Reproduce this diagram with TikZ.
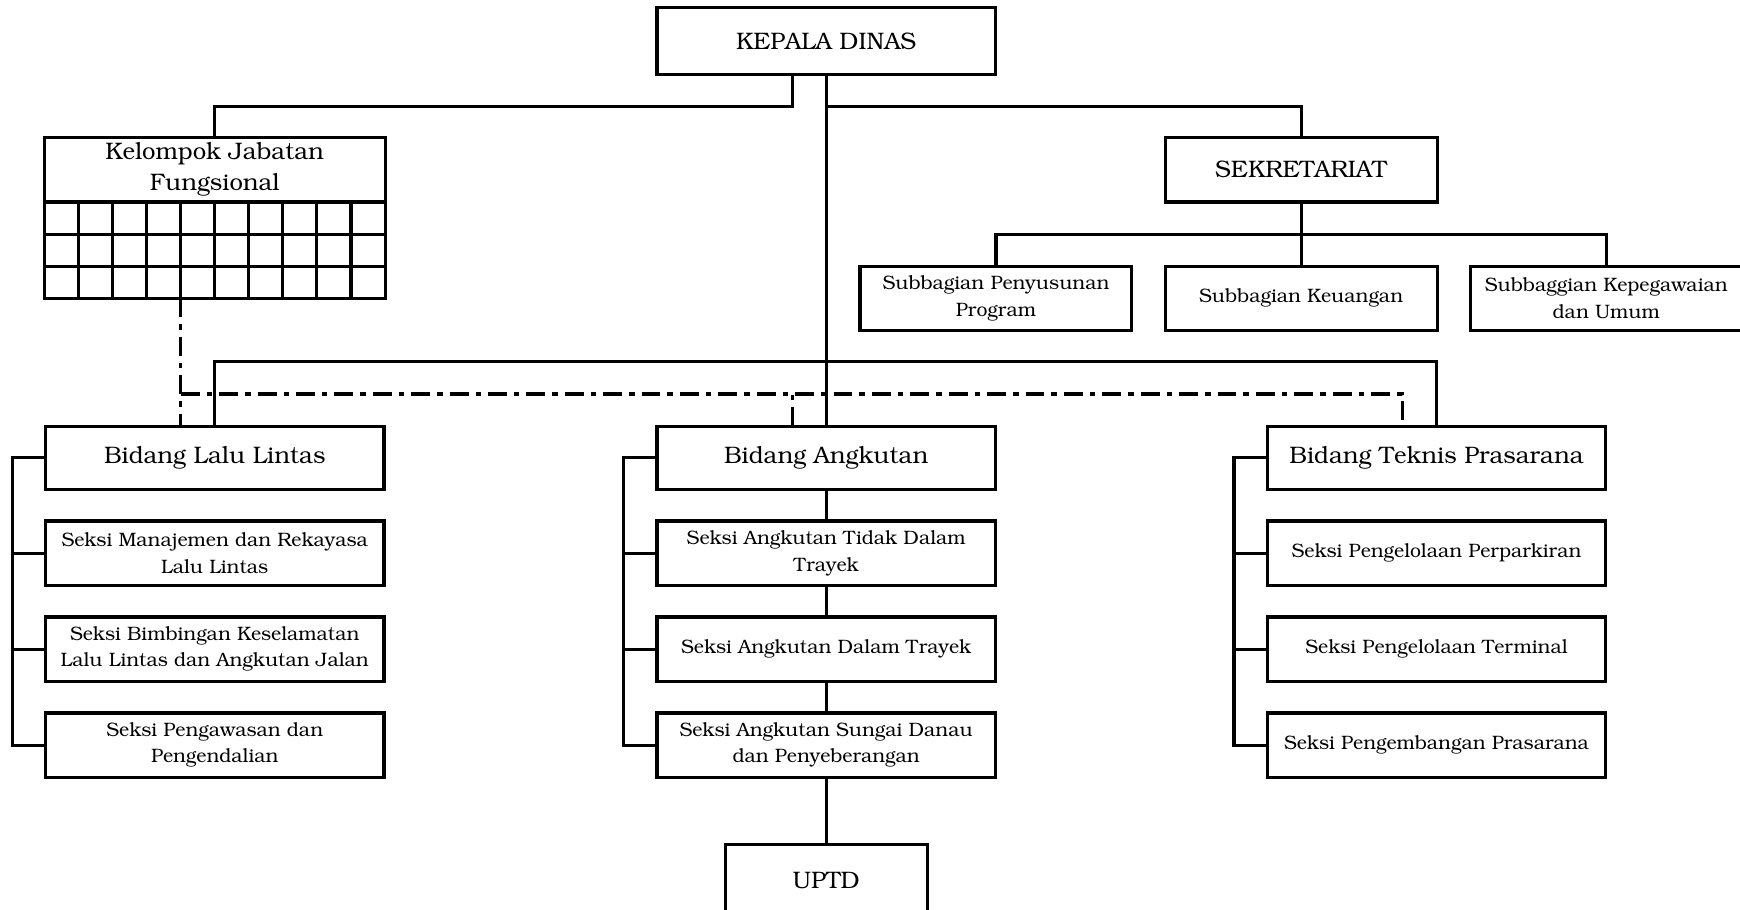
\documentclass[tikz,border=0pt]{standalone}
\usepackage[T1]{fontenc}
\usepackage{bookman}
\usetikzlibrary{positioning,calc}
\newcommand\orgbig{\fontsize{21.5}{28}\selectfont}
\newcommand\orgsmall{\fontsize{17.5}{24}\selectfont}
\tikzset{
  orgtop/.style={rectangle, draw=black, line width=2.8pt, outer sep=0pt, inner sep=0pt, align=center, minimum width=305pt, minimum height=57pt, font=\orgbig},
  orgbox/.style={rectangle, draw=black, line width=2.8pt, outer sep=0pt, inner sep=0pt, align=center, minimum width=305pt, minimum height=58pt, font=\orgsmall},
  orgsub/.style={orgbox, minimum width=245pt},
  orgline/.style={line width=2.8pt},
  orgdash/.style={line width=2.8pt, dash pattern=on 17pt off 6.3pt on 5pt off 6.3pt}
}
\begin{document}
\begin{tikzpicture}[x=1pt, y=-1pt, node distance=28.5pt]
\useasboundingbox (0,0) rectangle (1568,820);
% top
\node[orgtop, minimum height=60pt] (kd) at (744.5,37) {KEPALA DINAS};
\node[orgtop, minimum width=307pt, minimum height=58pt] (kjf) at (193.5,153) {Kelompok Jabatan\\Fungsional};
\node[orgtop, minimum width=307pt, minimum height=87pt, below=0pt of kjf] (kjfgrid) {};
\node[orgtop, minimum width=245pt, minimum height=58pt] (sek) at (1172.5,153) {SEKRETARIAT};
% sekretariat
\node[orgsub] (sbk) at (1172.5,269) {Subbagian Keuangan};
\node[orgsub, left=30pt of sbk] (sbp) {Subbagian Penyusunan\\Program};
\node[orgsub, right=30pt of sbk] (sbu) {Subbaggian Kepegawaian\\dan Umum};
% bidang
\node[orgtop] (bll) at (193.5,412.5) {Bidang Lalu Lintas};
\node[orgbox, below=of bll] (bll1) {Seksi Manajemen dan Rekayasa\\Lalu Lintas};
\node[orgbox, below=of bll1] (bll2) {Seksi Bimbingan Keselamatan\\Lalu Lintas dan Angkutan Jalan};
\node[orgbox, below=of bll2] (bll3) {Seksi Pengawasan dan\\Pengendalian};
\node[orgtop] (ba) at (744.5,412.5) {Bidang Angkutan};
\node[orgbox, below=of ba] (ba1) {Seksi Angkutan Tidak Dalam\\Trayek};
\node[orgbox, below=of ba1] (ba2) {Seksi Angkutan Dalam Trayek};
\node[orgbox, below=of ba2] (ba3) {Seksi Angkutan Sungai Danau\\dan Penyeberangan};
\node[orgtop] (btp) at (1294.5,412.5) {Bidang Teknis Prasarana};
\node[orgbox, below=of btp] (btp1) {Seksi Pengelolaan Perparkiran};
\node[orgbox, below=of btp1] (btp2) {Seksi Pengelolaan Terminal};
\node[orgbox, below=of btp2] (btp3) {Seksi Pengembangan Prasarana};
\node[orgtop, minimum width=182pt, minimum height=64pt] (uptd) at (744.5,793) {UPTD};
% grid of kelompok jabatan fungsional
\foreach \i in {1,...,9}
  \draw[orgline] ($(kjfgrid.north west)+(\i*30.7,0)$) -- ($(kjfgrid.south west)+(\i*30.7,0)$);
\foreach \j in {1,2}
  \draw[orgline] ($(kjfgrid.north west)+(0,\j*29)$) -- ($(kjfgrid.north east)+(0,\j*29)$);
% lines
\draw[orgline] ([xshift=-30.5pt]kd.south) -- ++(0,29) -| (kjf.north);
\draw[orgline] (kd.south) -- ++(0,29) -| (sek.north);
\draw[orgline] (kd.south) -- (ba.north);
\draw[orgline] (sek.south) -- (sbk.north);
\draw[orgline] (sbp.north) -- ++(0,-29) -| (sbu.north);
\draw[orgline] (bll.north) -- ++(0,-58) -| (btp.north);
\foreach \b in {bll,ba,btp}{
  \draw[orgline] (\b.west) -- ++(-30,0) |- (\b3.west);
  \draw[orgline] (\b1.west) -- ++(-30,0);
  \draw[orgline] (\b2.west) -- ++(-30,0);
}
\draw[orgline] (ba.south) -- (ba1.north);
\draw[orgline] (ba1.south) -- (ba2.north);
\draw[orgline] (ba2.south) -- (ba3.north);
\draw[orgline] (ba3.south) -- (uptd.north);
% koordinasi
\coordinate (kjfout) at ([xshift=-30.5pt]kjfgrid.south);
\draw[orgdash] (kjfout) -- (kjfout |- bll.north);
\draw[orgdash] (kjfout |- 0,355) -| ([xshift=-31pt]btp.north);
\draw[orgdash] ([xshift=-30.5pt]ba.north) -- ++(0,-29);
\end{tikzpicture}
\end{document}
